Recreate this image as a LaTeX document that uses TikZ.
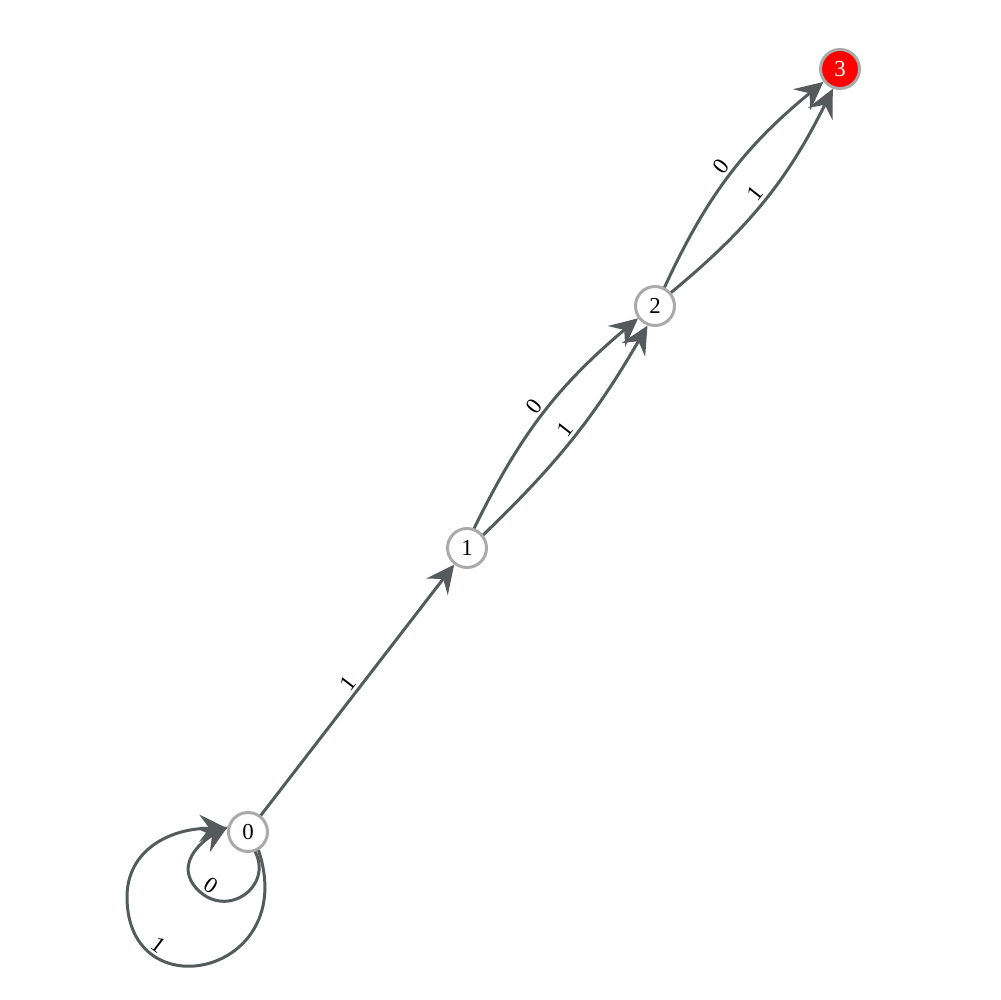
\documentclass[tikz,border=0pt]{standalone}
\usepackage{fontspec}
\setmainfont{Liberation Serif}
\usetikzlibrary{arrows.meta}
\definecolor{edgecol}{RGB}{85,90,90}
\definecolor{ringcol}{RGB}{170,170,170}
\begin{document}
\begin{tikzpicture}[x=0.02cm,y=-0.02cm,
  state/.style={circle,draw=ringcol,line width=0.06cm,fill=white,minimum size=0.78cm,inner sep=0pt,font=\fontsize{13}{15}\selectfont},
  final/.style={state,fill=red,text=white},
  edge/.style={draw=edgecol,line width=0.06cm,-{Stealth[length=0.56cm,width=0.54cm,inset=0.2cm]}},
  lbl/.style={sloped,above=0.5pt,inner sep=1pt,font=\fontsize{13}{15}\selectfont,text=black}]
\useasboundingbox (0,0) rectangle (1000,1000);
\node[state] (n0) at (248,832) {0};
\node[state] (n1) at (467,548) {1};
\node[state] (n2) at (655,306) {2};
\node[final] (n3) at (840,69) {3};
% self loops on 0
\draw[edge] (n0.290) .. controls (273,887) and (227,919) .. (198,890) node[lbl,pos=0.93] {0}
  .. controls (173,865) and (202,841) .. (n0.165);
\draw[edge] (n0.300) .. controls (300,975) and (127,1012) .. (127,897) node[lbl,pos=0.76] {1}
  .. controls (127,850) and (170,828) .. (n0.170);
% 0 -> 1
\draw[edge] (n0) -- node[lbl] {1} (n1);
% 1 -> 2
\draw[edge] (n1.70) to[bend left=12] node[lbl] {0} (n2.216);
\draw[edge] (n1.39) to[bend right=8] node[lbl] {1} (n2.249);
% 2 -> 3
\draw[edge] (n2.63) to[bend left=13] node[lbl] {0} (n3.218);
\draw[edge] (n2.40) to[bend right=12] node[lbl] {1} (n3.250);
\end{tikzpicture}
\end{document}
